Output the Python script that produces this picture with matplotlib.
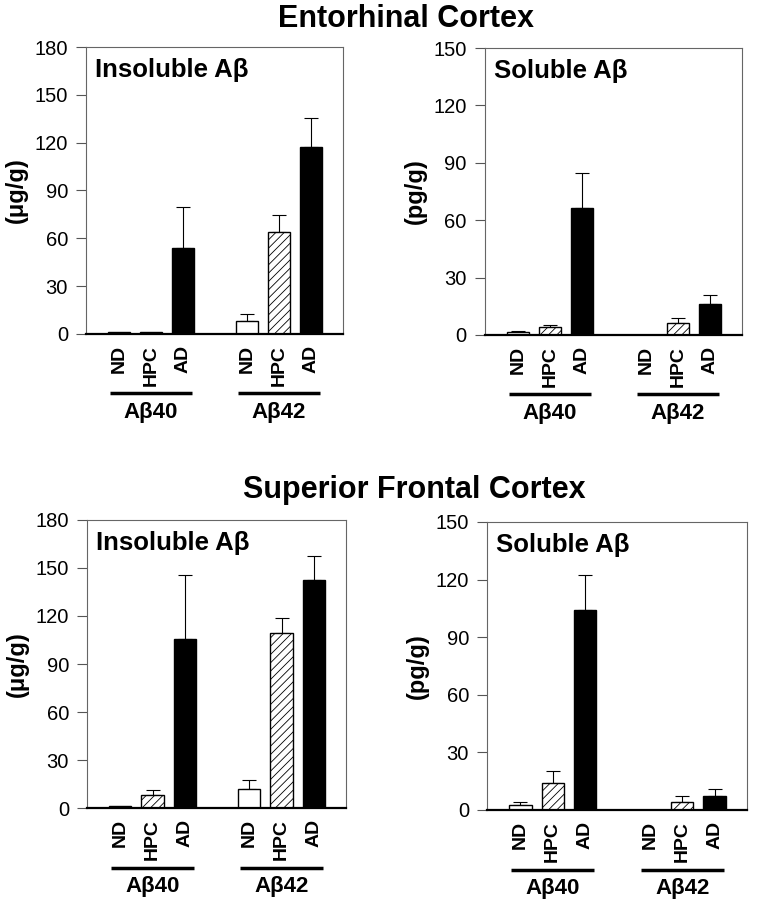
import numpy as np
import matplotlib
matplotlib.use("Agg")
from matplotlib import pyplot as plt

plt.rcParams['font.family'] = ['Liberation Sans', 'DejaVu Sans']
plt.rcParams['hatch.linewidth'] = 0.6

# categories
conditions = ['ND', 'HPC', 'AD', 'ND', 'HPC', 'AD']
groups = ['Aβ40', 'Aβ42']
positions = [0, 1, 2, 4, 5, 6]

# Entorhinal cortex
ec_insol_mean = [1.0, 1.5, 53.8, 8.1, 63.8, 117.4]
ec_insol_err = [0.0, 0.0, 25.7, 4.6, 10.9, 17.8]
ec_sol_mean = [1.7, 4.3, 66.6, 0.0, 6.1, 16.0]
ec_sol_err = [0.3, 0.9, 18.3, 0.0, 2.9, 4.9]

# Superior frontal cortex
sfc_insol_mean = [1.3, 7.9, 105.8, 12.1, 109.3, 142.7]
sfc_insol_err = [0.0, 3.6, 40.0, 5.6, 9.2, 15.0]
sfc_sol_mean = [2.8, 14.2, 104.0, 0.0, 4.2, 7.3]
sfc_sol_err = [1.2, 6.1, 18.4, 0.0, 2.9, 3.5]

fill_colors = ['white', 'white', 'black'] * 2
hatches = ['', '////', ''] * 2


def draw_panel(ax, means, errs, ymax, ylabel, title):
    bars = ax.bar(positions, means, width=0.69, color=fill_colors,
                  edgecolor='black', linewidth=1.0, zorder=2)
    for b, h in zip(bars, hatches):
        b.set_hatch(h)

    # upper error bars only
    for x, m, e in zip(positions, means, errs):
        if e > 0:
            ax.errorbar(x, m, yerr=[[0], [e]], fmt='none', ecolor='black',
                        elinewidth=0.8, capsize=5, capthick=0.8, zorder=1)

    ax.set_xlim(-1.03, 7.0)
    ax.set_ylim(0, ymax)
    ax.set_yticks(np.arange(0, ymax + 1, 30))
    ax.tick_params(axis='y', direction='out', length=7, width=0.8,
                   color='#555555', labelsize=14.5, pad=6)
    ax.set_xticks(positions)
    ax.set_xticklabels(conditions, rotation=90, fontweight='bold', fontsize=14)
    ax.tick_params(axis='x', length=0, pad=8)

    for s in ['top', 'right', 'left']:
        ax.spines[s].set_color('#666666')
        ax.spines[s].set_linewidth(0.8)
    ax.spines['bottom'].set_color('black')
    ax.spines['bottom'].set_linewidth(1.6)

    ax.set_ylabel(ylabel, fontweight='bold', fontsize=17)
    ax.yaxis.set_label_coords(-0.225, 0.5)

    ax.text(0.035, 0.92, title, transform=ax.transAxes, fontweight='bold',
            fontsize=18.5, ha='left', va='center')

    # group underlines and labels
    trans = ax.get_xaxis_transform()
    for g, start in zip(groups, [0, 4]):
        ax.plot([start - 0.28, start + 2.28], [-0.207, -0.207], color='black',
                lw=2.5, transform=trans, clip_on=False, solid_capstyle='butt')
        ax.text(start + 1, -0.274, g, transform=trans, ha='center', va='center',
                fontweight='bold', fontsize=16)


fig = plt.figure(figsize=(7.6, 8.99), dpi=100)

ax1 = fig.add_axes([0.1132, 0.6285, 0.338, 0.3192])
ax2 = fig.add_axes([0.638, 0.6274, 0.338, 0.3192])
ax3 = fig.add_axes([0.1145, 0.1012, 0.341, 0.3204])
ax4 = fig.add_axes([0.6408, 0.0990, 0.342, 0.3204])

draw_panel(ax1, ec_insol_mean, ec_insol_err, 180, '(μg/g)', 'Insoluble Aβ')
draw_panel(ax2, ec_sol_mean, ec_sol_err, 150, '(pg/g)', 'Soluble Aβ')
draw_panel(ax3, sfc_insol_mean, sfc_insol_err, 180, '(μg/g)', 'Insoluble Aβ')
draw_panel(ax4, sfc_sol_mean, sfc_sol_err, 150, '(pg/g)', 'Soluble Aβ')

fig.text(0.534, 0.970, 'Entorhinal Cortex', ha='center', va='baseline',
         fontweight='bold', fontsize=22)
fig.text(0.545, 0.446, 'Superior Frontal Cortex', ha='center', va='baseline',
         fontweight='bold', fontsize=22)

fig.savefig('out.png', dpi=100)
